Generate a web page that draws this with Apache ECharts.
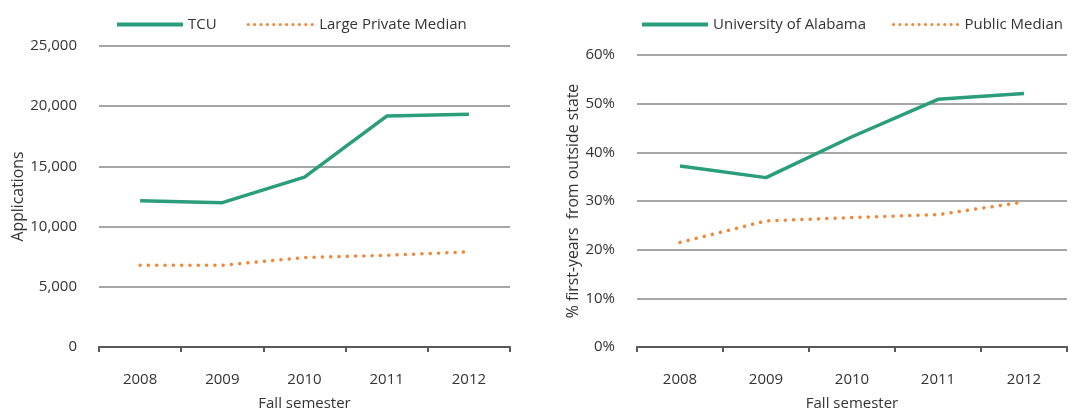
<!DOCTYPE html>
<html>
<head>
<meta charset="utf-8">
<script src="https://cdn.jsdelivr.net/npm/echarts@6/dist/echarts.min.js"></script>
<style>
  html, body { margin: 0; padding: 0; background: #fff; }
  #chart { width: 1079px; height: 416px; }
</style>
</head>
<body>
<div id="chart"></div>
<script>
// data
const years = ['2008', '2009', '2010', '2011', '2012'];
const tcu = [12150, 11990, 14110, 19180, 19330];
const largePrivateMedian = [6780, 6790, 7430, 7620, 7900];
const alabama = [37.2, 34.8, 43.2, 50.9, 52.1];
const publicMedian = [21.5, 25.9, 26.6, 27.2, 29.8];

const green = '#2a9d7c';
const orange = '#f0883a';
const font = '"Open Sans", sans-serif';
const txt = '#333333';
const dots = [0.1, 8.2];

function xAxisFor(gridIndex) {
    return {
        type: 'category',
        gridIndex: gridIndex,
        data: years,
        boundaryGap: true,
        name: 'Fall semester',
        nameLocation: 'middle',
        nameGap: 49,
        nameTextStyle: {color: txt, fontSize: 15, fontFamily: font},
        axisLine: {lineStyle: {color: '#595959', width: 2}},
        axisTick: {show: true, alignWithLabel: false, length: 5, lineStyle: {color: '#595959', width: 2}},
        axisLabel: {color: txt, fontSize: 15, fontFamily: font, margin: 25}
    };
}

function legendFor(solidName, dottedName, left, gap) {
    return {
        data: [
            {name: solidName, lineStyle: {width: 4}},
            {name: dottedName, lineStyle: {width: 3, type: [0.1, 6.3]}}
        ],
        left: left, top: 12,
        itemWidth: 66, itemHeight: 14, itemGap: gap,
        itemStyle: {opacity: 0},
        textStyle: {color: txt, fontSize: 15, fontFamily: font}
    };
}

let option = {
    animation: false,
    legend: [
        legendFor('TCU', 'Large Private Median', 110, 30),
        legendFor('University of Alabama', 'Public Median', 635, 26)
    ],
    grid: [
        {left: 99, right: 569, top: 46, bottom: 64},
        {left: 637, right: 12, top: 55, bottom: 64}
    ],
    xAxis: [xAxisFor(0), xAxisFor(1)],
    yAxis: [{
        type: 'value',
        gridIndex: 0,
        min: 0, max: 25000, interval: 5000,
        name: 'Applications',
        nameLocation: 'middle',
        nameGap: 71,
        nameTextStyle: {color: txt, fontSize: 15.8, fontFamily: font},
        axisLine: {show: false},
        axisTick: {show: false},
        axisLabel: {
            color: txt, fontSize: 15, fontFamily: font, margin: 22,
            formatter: v => v.toLocaleString('en-US')
        },
        splitLine: {lineStyle: {color: '#a6a6a6', width: 2}}
    }, {
        type: 'value',
        gridIndex: 1,
        min: 0, max: 60, interval: 10,
        name: '% first-years  from outside state',
        nameLocation: 'middle',
        nameGap: 52,
        nameTextStyle: {color: txt, fontSize: 15.8, fontFamily: font},
        axisLine: {show: false},
        axisTick: {show: false},
        axisLabel: {color: txt, fontSize: 15, fontFamily: font, margin: 22, formatter: '{value}%'},
        splitLine: {lineStyle: {color: '#a6a6a6', width: 2}}
    }],
    series: [{
        name: 'TCU', type: 'line', xAxisIndex: 0, yAxisIndex: 0,
        data: tcu, symbol: 'none',
        lineStyle: {color: green, width: 3.5}, itemStyle: {color: green}
    }, {
        name: 'Large Private Median', type: 'line', xAxisIndex: 0, yAxisIndex: 0,
        data: largePrivateMedian, symbol: 'none',
        lineStyle: {color: orange, width: 3.5, type: dots, cap: 'round'}, itemStyle: {color: orange}
    }, {
        name: 'University of Alabama', type: 'line', xAxisIndex: 1, yAxisIndex: 1,
        data: alabama, symbol: 'none',
        lineStyle: {color: green, width: 3.5}, itemStyle: {color: green}
    }, {
        name: 'Public Median', type: 'line', xAxisIndex: 1, yAxisIndex: 1,
        data: publicMedian, symbol: 'none',
        lineStyle: {color: orange, width: 3.5, type: dots, cap: 'round'}, itemStyle: {color: orange}
    }]
};

let myChart = echarts.init(document.getElementById('chart'));
myChart.setOption(option);
window.addEventListener('resize', function () {
    myChart.resize();
});
</script>
</body>
</html>
